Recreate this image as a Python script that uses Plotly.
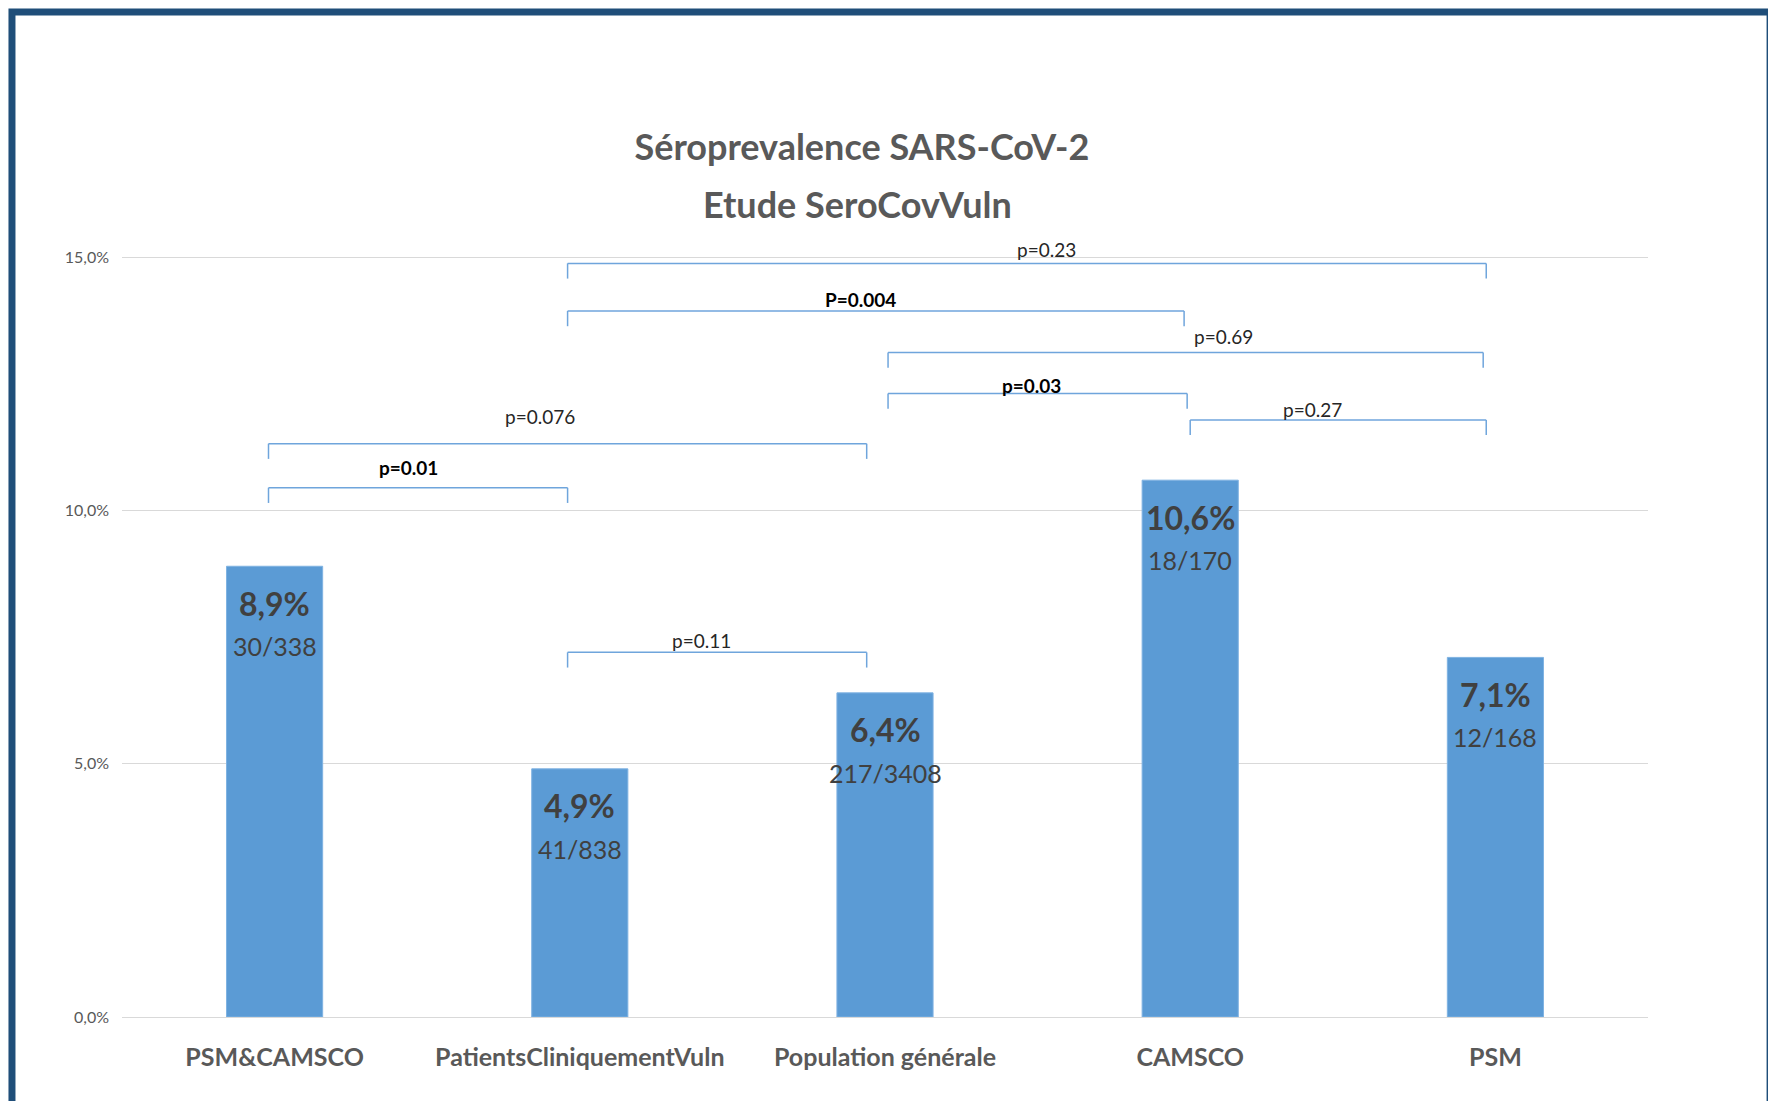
import plotly.graph_objects as go

# ---- data ----
categories = ["PSM&CAMSCO", "PatientsCliniquementVuln", "Population générale", "CAMSCO", "PSM"]
prevalence = [8.9, 4.9, 6.4, 10.6, 7.1]
counts = ["30/338", "41/838", "217/3408", "18/170", "12/168"]

y_ticks = [0, 5, 10, 15]
y_tick_labels = ["0,0%", "5,0%", "10,0%", "15,0%"]

title_line1 = "Séroprevalence SARS-CoV-2"
title_line2 = "Etude SeroCovVuln"

bracket_labels = ["p=0.01", "p=0.076", "p=0.11", "P=0.004", "p=0.23", "p=0.69", "p=0.03", "p=0.27"]
bracket_bold = [True, False, False, True, False, False, True, False]
bracket_start = [-0.02, -0.02, 0.96, 0.96, 0.96, 2.01, 2.01, 3.00]
bracket_end = [0.96, 1.94, 1.94, 2.98, 3.97, 3.96, 2.99, 3.97]
bracket_level = [10.45, 11.32, 7.20, 13.94, 14.88, 13.12, 12.31, 11.79]
label_x = [0.44, 0.87, 1.40, 1.92, 2.53, 3.11, 2.48, 3.40]
label_y = [10.85, 11.86, 7.44, 14.17, 15.16, 13.44, 12.47, 12.00]

FONT = "Lato, Liberation Sans Narrow, DejaVu Sans Condensed, sans-serif"
BAR = "#5b9bd5"
BRACKET = "#6fa5dc"
TITLE_COLOR = "#595959"

fig = go.Figure()
fig.add_trace(go.Bar(
    x=categories, y=prevalence,
    marker=dict(color=BAR, line=dict(color="#7fb2e2", width=1)),
    width=0.315, hoverinfo="skip",
))

annotations = []
for c, v, n in zip(categories, prevalence, counts):
    pct = f"{v:.1f}%".replace(".", ",")
    annotations.append(dict(x=c, y=v, xref="x", yref="y", text=f"<b>{pct}</b>",
                            showarrow=False, yanchor="middle", yshift=-37,
                            font=dict(family=FONT, size=32, color="#404040")))
    annotations.append(dict(x=c, y=v, xref="x", yref="y", text=n,
                            showarrow=False, yanchor="middle", yshift=-80,
                            font=dict(family=FONT, size=25, color="#404040")))

shapes = []
drop = 0.3
for lab, b, x0, x1, lv, lx, ly in zip(bracket_labels, bracket_bold, bracket_start,
                                     bracket_end, bracket_level, label_x, label_y):
    ln = dict(color=BRACKET, width=1.5)
    shapes.append(dict(type="line", xref="x", yref="y", x0=x0, x1=x1, y0=lv, y1=lv, line=ln))
    shapes.append(dict(type="line", xref="x", yref="y", x0=x0, x1=x0, y0=lv, y1=lv - drop, line=ln))
    shapes.append(dict(type="line", xref="x", yref="y", x0=x1, x1=x1, y0=lv, y1=lv - drop, line=ln))
    annotations.append(dict(x=lx, y=ly, xref="x", yref="y",
                            text=f"<b>{lab}</b>" if b else lab,
                            showarrow=False, yanchor="middle",
                            font=dict(family=FONT, size=19,
                                      color="#000000" if b else "#262626")))

# second title line
annotations.append(dict(x=0.4823, y=1.0357, xref="paper", yref="paper",
                        text=f"<b>{title_line2}</b>", showarrow=False,
                        xanchor="center", yanchor="middle",
                        font=dict(family=FONT, size=36, color=TITLE_COLOR)))

# outer frame
shapes.append(dict(type="rect", xref="paper", yref="paper",
                   x0=-0.0721, x1=1.080, y0=-0.13, y1=1.2803,
                   line=dict(color="#1f4e79", width=7), layer="above"))

fig.update_layout(
    width=1768, height=1093,
    margin=dict(l=114, r=128, t=224, b=84),
    paper_bgcolor="white", plot_bgcolor="white",
    showlegend=False,
    title=dict(text=f"<b>{title_line1}</b>",
               x=0.483, xanchor="center", y=0.8728, yanchor="middle",
               font=dict(family=FONT, size=36, color=TITLE_COLOR)),
    xaxis=dict(showgrid=False, showline=False, ticks="",
               tickfont=dict(family=FONT, size=25, color="#595959", weight="bold"),
               ticklabelstandoff=23, fixedrange=True),
    yaxis=dict(range=[0, 15.5], tickvals=y_ticks, ticktext=y_tick_labels,
               showgrid=True, gridcolor="#d9d9d9", gridwidth=1,
               zeroline=True, zerolinecolor="#d9d9d9", zerolinewidth=1,
               showline=False, ticks="",
               tickfont=dict(family=FONT, size=16, color="#595959"),
               ticklabelstandoff=12, fixedrange=True),
    annotations=annotations,
    shapes=shapes,
)

fig.write_html("out.html")
